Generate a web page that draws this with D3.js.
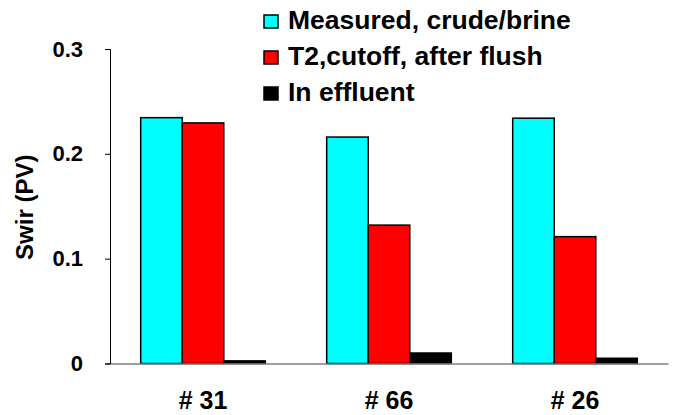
<!DOCTYPE html>
<html>
<head>
<meta charset="utf-8">
<script src="https://cdn.jsdelivr.net/npm/d3@7"></script>
<style>
  body { margin: 0; background: #fff; }
  text { font-family: Arial, "Liberation Sans", sans-serif; font-weight: bold; fill: #000; }
</style>
</head>
<body>
<div id="chart"></div>
<script>
// data
const samples = ["# 31", "# 66", "# 26"]
const seriesNames = ["Measured, crude/brine", "T2,cutoff, after flush", "In effluent"]
const measured = [0.2345, 0.216, 0.234]
const t2cutoff = [0.2295, 0.132, 0.121]
const effluent = [0.0025, 0.0100, 0.0050]
const yTicks = [0, 0.1, 0.2, 0.3]

const colors = ["#00ffff", "#ff0000", "#000000"]
const series = [measured, t2cutoff, effluent]

const W = 677, H = 415
const margin = { top: 49, right: 9, bottom: 51.5, left: 110 }
const width = W - margin.left - margin.right,
    height = H - margin.top - margin.bottom

const svg = d3.select("#chart").append("svg")
    .attr("width", W)
    .attr("height", H)

const g = svg.append("g")
    .attr("transform", "translate(" + margin.left + "," + margin.top + ")")

// scales
const x0 = d3.scaleBand().domain(samples).range([0, width]).paddingInner(0.33).paddingOuter(0.165)
const x1 = d3.scaleBand().domain(d3.range(seriesNames.length)).range([0, x0.bandwidth()])
const y = d3.scaleLinear().domain([0, 0.3]).range([height, 0])

// bars
samples.forEach((s, i) => {
    const grp = g.append("g").attr("transform", "translate(" + x0(s) + ",0)")
    series.forEach((vals, j) => {
        grp.append("rect")
            .attr("x", x1(j))
            .attr("y", y(vals[i]))
            .attr("width", x1.bandwidth())
            .attr("height", height - y(vals[i]))
            .attr("fill", colors[j])
            .attr("stroke", "#000")
            .attr("stroke-width", 1.5)
    })
})

// x axis (grey baseline, no ticks)
const xAxis = g.append("g")
    .attr("transform", "translate(0," + height + ")")
    .call(d3.axisBottom(x0).tickSize(0).tickPadding(28))
xAxis.select(".domain").attr("stroke", "#808080").attr("stroke-width", 1.5)
xAxis.selectAll("text").style("font-size", "25px").attr("font-family", null)

// y axis
const yAxis = g.append("g")
    .call(d3.axisLeft(y).tickValues(yTicks).tickFormat(d => d === 0 ? "0" : d3.format(".1f")(d)).tickSize(5).tickPadding(22))
yAxis.select(".domain").attr("stroke", "#000")
yAxis.selectAll("text").style("font-size", "22px").attr("font-family", null)

// y title
svg.append("text")
    .attr("transform", "translate(33," + (margin.top + height / 2 + 1) + ") rotate(-90)")
    .attr("text-anchor", "middle")
    .style("font-size", "24px")
    .text("Swir (PV)")

// legend
const legend = svg.append("g").attr("transform", "translate(264,15)")
seriesNames.forEach((name, j) => {
    const row = legend.append("g").attr("transform", "translate(0," + (j * 36) + ")")
    row.append("rect")
        .attr("width", 14).attr("height", 13)
        .attr("fill", colors[j])
        .attr("stroke", "#000").attr("stroke-width", 1.5)
    row.append("text")
        .attr("x", 24).attr("y", 13.5)
        .style("font-size", "26.5px")
        .text(name)
})
</script>
</body>
</html>
